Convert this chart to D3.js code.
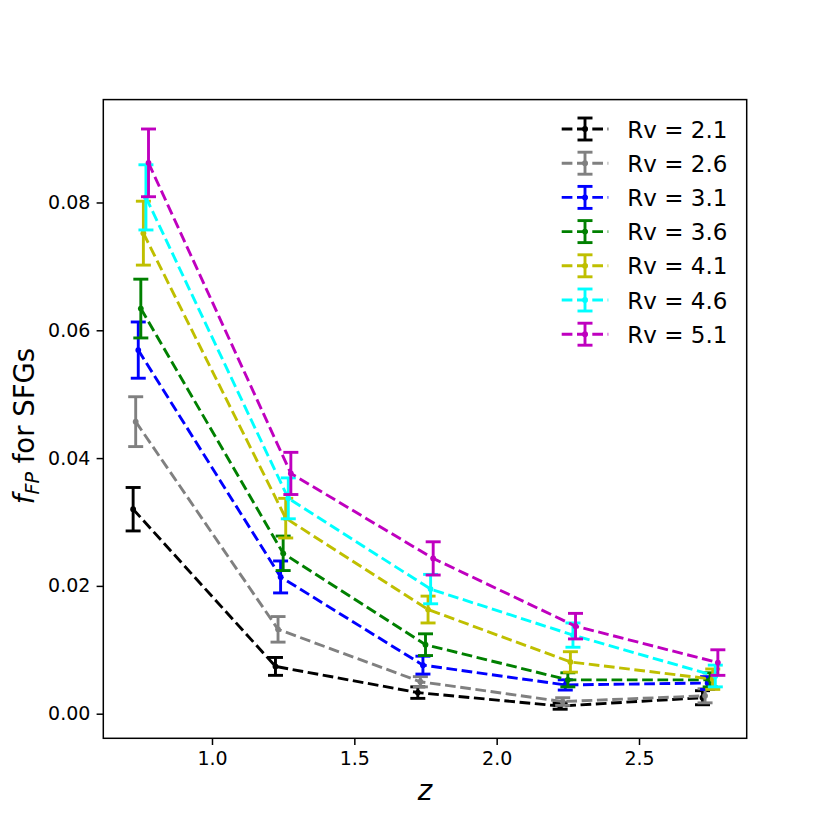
<!DOCTYPE html>
<html>
<head>
<meta charset="utf-8">
<script src="https://cdn.jsdelivr.net/npm/d3@7"></script>
<style>
  body { margin: 0; background: #fff; }
  svg text { font-family: "DejaVu Sans", sans-serif; fill: #000; }
</style>
</head>
<body>
<svg id="chart" width="830" height="830"></svg>
<script>
// redshift bins and the small dodge each Rv series gets
const zBins = [0.75, 1.25, 1.75, 2.25, 2.75];
const dodge = [-0.027, -0.018, -0.009, 0, 0.009, 0.018, 0.027];

const rvLabels = ["Rv = 2.1", "Rv = 2.6", "Rv = 3.1", "Rv = 3.6", "Rv = 4.1", "Rv = 4.6", "Rv = 5.1"];
const colors = ["#000000", "#808080", "#0000ff", "#008000", "#bfbf00", "#00ffff", "#bf00bf"];

const fRv21 = [0.0320, 0.0074, 0.0033, 0.0012, 0.0025];
const fRv26 = [0.0457, 0.0132, 0.0050, 0.0019, 0.0028];
const fRv31 = [0.0569, 0.0214, 0.0076, 0.0045, 0.0048];
const fRv36 = [0.0634, 0.0251, 0.0108, 0.0053, 0.0053];
const fRv41 = [0.0752, 0.0306, 0.0163, 0.0081, 0.0054];
const fRv46 = [0.0808, 0.0337, 0.0195, 0.0123, 0.0059];
const fRv51 = [0.0862, 0.0376, 0.0243, 0.0137, 0.0080];

const eRv21 = [0.0034, 0.0014, 0.0009, 0.0005, 0.0011];
const eRv26 = [0.0039, 0.0020, 0.0008, 0.0006, 0.0011];
const eRv31 = [0.0044, 0.0025, 0.0014, 0.0008, 0.0010];
const eRv36 = [0.0046, 0.0027, 0.0017, 0.0011, 0.0011];
const eRv41 = [0.0050, 0.0031, 0.0021, 0.0016, 0.0016];
const eRv46 = [0.0051, 0.0032, 0.0023, 0.0019, 0.0017];
const eRv51 = [0.0053, 0.0033, 0.0026, 0.0020, 0.0020];

const xTicks = [1.0, 1.5, 2.0, 2.5];
const yTicks = [0.00, 0.02, 0.04, 0.06, 0.08];

const values = [fRv21, fRv26, fRv31, fRv36, fRv41, fRv46, fRv51];
const errors = [eRv21, eRv26, eRv31, eRv36, eRv41, eRv46, eRv51];

const series = rvLabels.map((label, i) => ({
  label: label,
  color: colors[i],
  points: zBins.map((z, j) => ({ x: z + dodge[i], y: values[i][j], e: errors[i][j] }))
}));

const svg = d3.select("#chart");
const box = { left: 103.3, right: 746.7, top: 99.6, bottom: 738.3 };

const x = d3.scaleLinear().domain([0.6182, 2.8783]).range([box.left, box.right]);
const y = d3.scaleLinear().domain([-0.00385, 0.0961]).range([box.bottom, box.top]);

const lw = 2.9;
const dash = "10.7,4.6";
const capHalf = 7.5;

const line = d3.line().x(d => x(d.x)).y(d => y(d.y));

const plot = svg.append("g");

series.forEach(s => {
  const g = plot.append("g");
  g.append("path")
    .datum(s.points)
    .attr("d", line)
    .attr("fill", "none")
    .attr("stroke", s.color)
    .attr("stroke-width", lw)
    .attr("stroke-dasharray", dash);

  s.points.forEach(p => {
    const cx = x(p.x);
    g.append("line")
      .attr("x1", cx).attr("x2", cx)
      .attr("y1", y(p.y - p.e)).attr("y2", y(p.y + p.e))
      .attr("stroke", s.color).attr("stroke-width", lw);
    [p.y - p.e, p.y + p.e].forEach(v => {
      g.append("line")
        .attr("x1", cx - capHalf).attr("x2", cx + capHalf)
        .attr("y1", y(v)).attr("y2", y(v))
        .attr("stroke", s.color).attr("stroke-width", lw);
    });
    g.append("circle")
      .attr("cx", cx).attr("cy", y(p.y)).attr("r", 2.9)
      .attr("fill", s.color);
  });
});

// frame
svg.append("rect")
  .attr("x", box.left).attr("y", box.top)
  .attr("width", box.right - box.left).attr("height", box.bottom - box.top)
  .attr("fill", "none").attr("stroke", "#000").attr("stroke-width", 1.5);

const xAxis = svg.append("g")
  .attr("transform", `translate(0,${box.bottom})`)
  .call(d3.axisBottom(x).tickValues(xTicks).tickFormat(d3.format(".1f")).tickSize(6.7).tickPadding(6.2));

const yAxis = svg.append("g")
  .attr("transform", `translate(${box.left},0)`)
  .call(d3.axisLeft(y).tickValues(yTicks).tickFormat(d3.format(".2f")).tickSize(6.7).tickPadding(6.2));

[xAxis, yAxis].forEach(a => {
  a.select(".domain").remove();
  a.selectAll(".tick line").attr("stroke", "#000").attr("stroke-width", 1.5);
  a.selectAll(".tick text")
    .style("font-family", "DejaVu Sans")
    .style("font-size", "19px")
    .attr("fill", "#000");
});

// axis labels
svg.append("text")
  .attr("x", (box.left + box.right) / 2)
  .attr("y", 800)
  .attr("text-anchor", "middle")
  .style("font-size", "27.5px")
  .style("font-style", "italic")
  .text("z");

const yl = svg.append("text")
  .attr("transform", "translate(33.5,426) rotate(-90)")
  .attr("text-anchor", "middle")
  .style("font-size", "27.5px");
yl.append("tspan").style("font-style", "italic").text("f");
yl.append("tspan").style("font-style", "italic").style("font-size", "19px").attr("dy", 5).text("FP");
yl.append("tspan").attr("dy", -5).text(" for SFGs");

// legend
const legend = svg.append("g");
const rowY = i => 129 + 34.2 * i;
series.forEach((s, i) => {
  const cy = rowY(i);
  const lg = legend.append("g");
  lg.append("line")
    .attr("x1", 561.7).attr("x2", 608.3).attr("y1", cy).attr("y2", cy)
    .attr("stroke", s.color).attr("stroke-width", lw).attr("stroke-dasharray", dash);
  lg.append("line")
    .attr("x1", 585).attr("x2", 585).attr("y1", cy - 11).attr("y2", cy + 11)
    .attr("stroke", s.color).attr("stroke-width", lw);
  [cy - 11, cy + 11].forEach(v => {
    lg.append("line")
      .attr("x1", 585 - capHalf).attr("x2", 585 + capHalf).attr("y1", v).attr("y2", v)
      .attr("stroke", s.color).attr("stroke-width", lw);
  });
  lg.append("circle").attr("cx", 585).attr("cy", cy).attr("r", 2.9).attr("fill", s.color);
  lg.append("text")
    .attr("x", 627.3).attr("y", cy + 8.6)
    .style("font-size", "23px")
    .text(s.label);
});
</script>
</body>
</html>
